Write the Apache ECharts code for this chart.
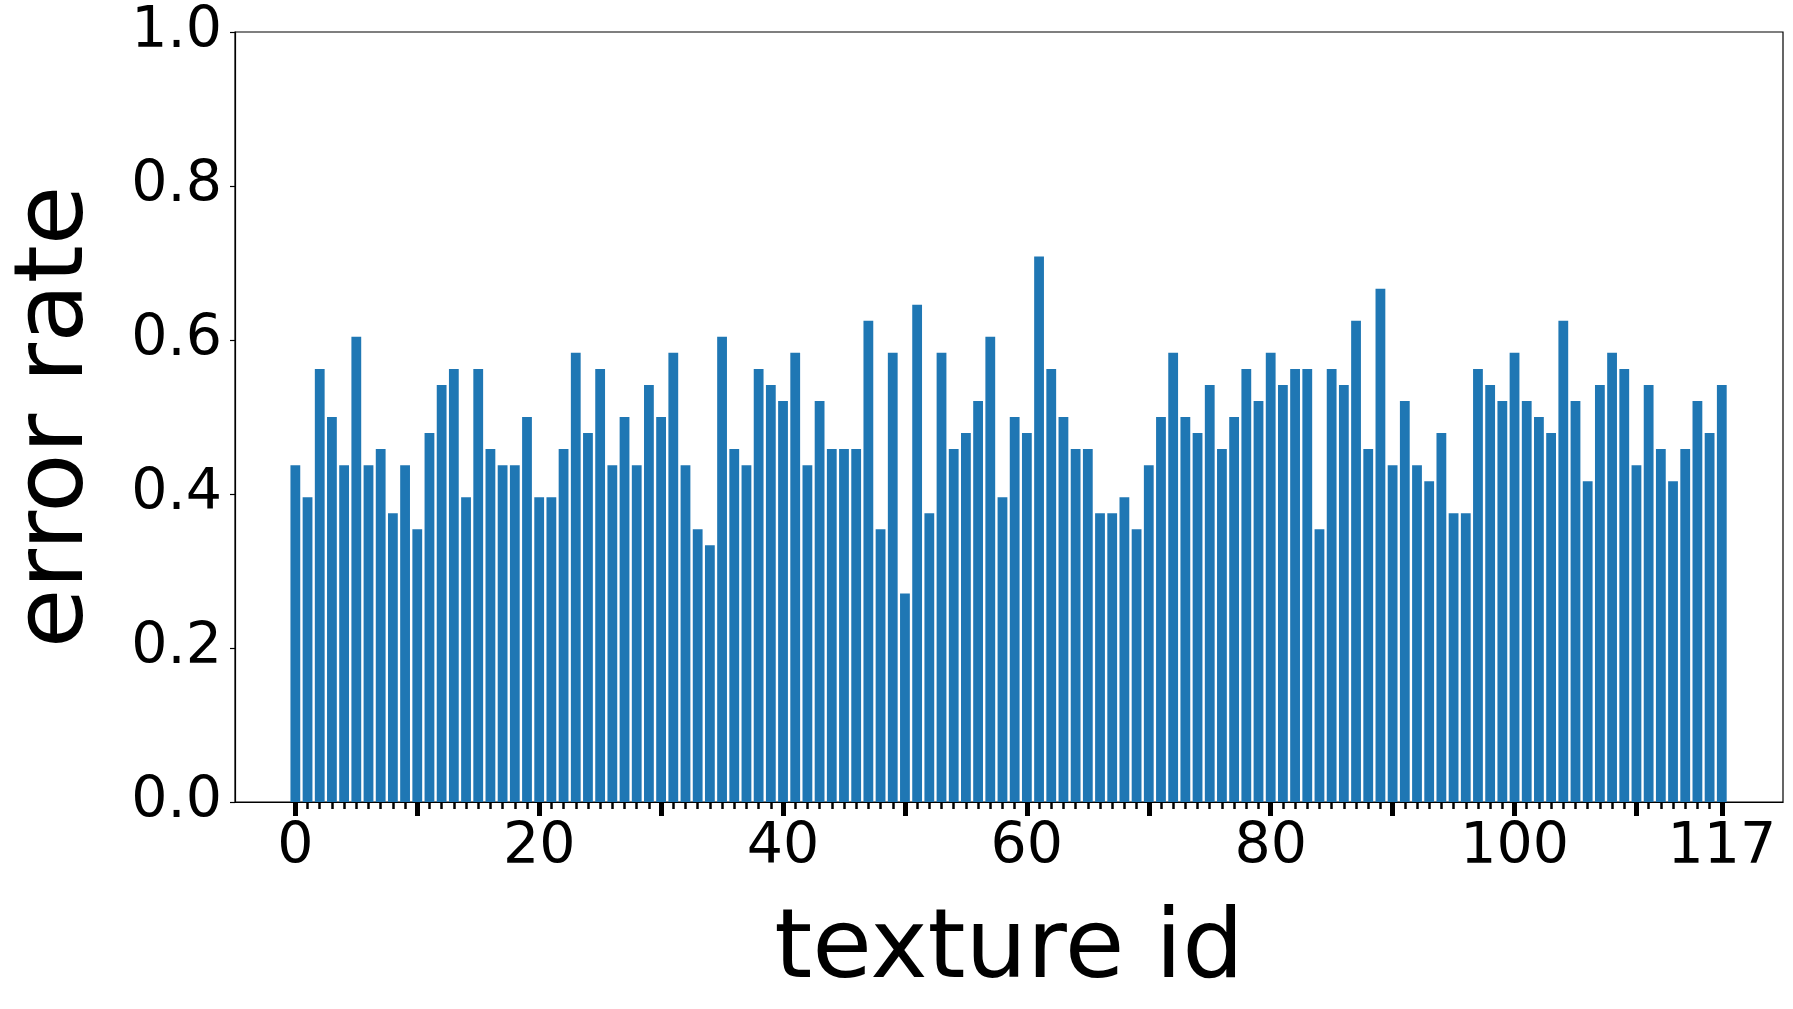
<!DOCTYPE html>
<html>
<head>
<meta charset="utf-8">
<script src="https://cdn.jsdelivr.net/npm/echarts@6/dist/echarts.min.js"></script>
<style>
  html, body { margin: 0; padding: 0; background: #fff; }
  #main { width: 1793px; height: 1009px; }
</style>
</head>
<body>
<div id="main"></div>
<script>
// error rate per texture
var errorRate = [
  0.4375, 0.3958, 0.5625, 0.5, 0.4375, 0.6042, 0.4375, 0.4583, 0.375, 0.4375,
  0.3542, 0.4792, 0.5417, 0.5625, 0.3958, 0.5625, 0.4583, 0.4375, 0.4375, 0.5,
  0.3958, 0.3958, 0.4583, 0.5833, 0.4792, 0.5625, 0.4375, 0.5, 0.4375, 0.5417,
  0.5, 0.5833, 0.4375, 0.3542, 0.3333, 0.6042, 0.4583, 0.4375, 0.5625, 0.5417,
  0.5208, 0.5833, 0.4375, 0.5208, 0.4583, 0.4583, 0.4583, 0.625, 0.3542, 0.5833,
  0.2708, 0.6458, 0.375, 0.5833, 0.4583, 0.4792, 0.5208, 0.6042, 0.3958, 0.5,
  0.4792, 0.7083, 0.5625, 0.5, 0.4583, 0.4583, 0.375, 0.375, 0.3958, 0.3542,
  0.4375, 0.5, 0.5833, 0.5, 0.4792, 0.5417, 0.4583, 0.5, 0.5625, 0.5208,
  0.5833, 0.5417, 0.5625, 0.5625, 0.3542, 0.5625, 0.5417, 0.625, 0.4583, 0.6667,
  0.4375, 0.5208, 0.4375, 0.4167, 0.4792, 0.375, 0.375, 0.5625, 0.5417, 0.5208,
  0.5833, 0.5208, 0.5, 0.4792, 0.625, 0.5208, 0.4167, 0.5417, 0.5833, 0.5625,
  0.4375, 0.5417, 0.4583, 0.4167, 0.4583, 0.5208, 0.4792, 0.5417
];
var textureIds = errorRate.map(function (v, i) { return i; });

var xLabelValues = [0, 20, 40, 60, 80, 100, 117];
var xMajorTicks = [0, 10, 20, 30, 40, 50, 60, 70, 80, 90, 100, 110, 117];
var xMinorTicks = textureIds;

var font = "DejaVu Sans";
var chart = echarts.init(document.getElementById("main"));

chart.setOption({
  animation: false,
  grid: {
    left: 233, right: 10, top: 32, bottom: 207,
    show: true, borderColor: "#000", borderWidth: 1.2, backgroundColor: "transparent"
  },
  xAxis: [
    {
      type: "value",
      min: -4.95,
      max: 122.02,
      name: "texture id",
      nameLocation: "middle",
      nameGap: 101,
      nameTextStyle: { fontFamily: font, fontSize: 97, color: "#000" },
      axisLine: { show: true, onZero: false, lineStyle: { color: "#000", width: 1.2 } },
      axisTick: { show: true, customValues: xMajorTicks, length: 14, lineStyle: { color: "#000", width: 5 } },
      axisLabel: {
        customValues: xLabelValues,
        margin: 18,
        fontFamily: font, fontSize: 57, color: "#000"
      },
      splitLine: { show: false }
    },
    {
      type: "value",
      min: -4.95,
      max: 122.02,
      position: "bottom",
      axisLine: { show: false, onZero: false },
      axisTick: { show: true, customValues: xMinorTicks, length: 7, lineStyle: { color: "#000", width: 2.5 } },
      axisLabel: { show: false },
      splitLine: { show: false }
    }
  ],
  yAxis: {
    type: "value",
    min: 0,
    max: 1,
    interval: 0.2,
    name: "error rate",
    nameLocation: "middle",
    nameRotate: 90,
    nameGap: 130,
    nameTextStyle: { fontFamily: font, fontSize: 97, color: "#000" },
    axisLine: { show: true, onZero: false, lineStyle: { color: "#000", width: 1.2 } },
    axisTick: { show: true, length: 5, lineStyle: { color: "#000", width: 1.2 } },
    axisLabel: {
      margin: 13,
      fontFamily: font, fontSize: 57, color: "#000",
      formatter: function (v) { return v.toFixed(1); }
    },
    splitLine: { show: false }
  },
  series: [
    {
      type: "bar",
      xAxisIndex: 0,
      barWidth: 9.8,
      itemStyle: { color: "#1f77b4" },
      data: textureIds.map(function (id, i) { return [id, errorRate[i]]; })
    }
  ]
});
</script>
</body>
</html>
